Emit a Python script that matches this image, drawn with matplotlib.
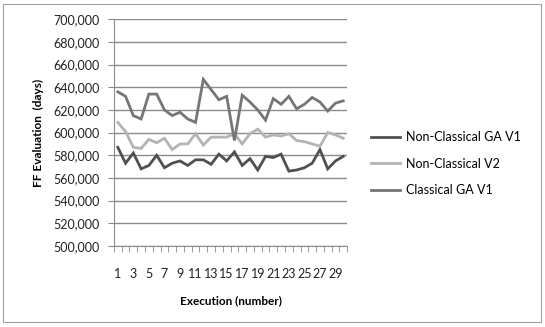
import matplotlib
matplotlib.use("Agg")
import matplotlib.pyplot as plt
from matplotlib.ticker import FuncFormatter, FixedLocator
from matplotlib.patches import Rectangle

# values (thousands of days)
executions = list(range(1, 31))
non_classical_v1 = [587, 573, 582, 568, 571, 580, 569, 573, 575, 571,
                    576, 576, 572, 581, 575, 583, 571, 577, 567, 579,
                    578, 581, 566, 567, 569, 573, 585, 568, 575, 579]
non_classical_v2 = [609, 601, 587, 586, 594, 591, 595, 585, 590, 590,
                    599, 589, 596, 596, 596, 599, 590, 599, 603, 596,
                    598, 597, 599, 593, 592, 590, 588, 600, 598, 595]
classical_v1 = [636, 632, 615, 612, 634, 634, 620, 615, 618, 612,
                609, 647, 638, 629, 632, 593, 633, 627, 620, 611,
                630, 625, 632, 621, 625, 631, 627, 619, 626, 628]

series = [("Non-Classical GA V1", non_classical_v1, "#505050"),
          ("Non-Classical V2", non_classical_v2, "#b4b4b4"),
          ("Classical GA V1", classical_v1, "#767676")]

plt.rcParams["font.family"] = ["Lato", "DejaVu Sans"]

fig = plt.figure(figsize=(5.45, 3.27), dpi=100)
ax = fig.add_axes([0.209, 0.248, 0.428, 0.693])

# outer chart border
fig.patches.append(Rectangle((0.006, 0.014), 0.987, 0.974, transform=fig.transFigure,
                             fill=False, edgecolor="#a0a0a0", lw=0.8))

for name, vals, col in series:
    ax.plot(executions, [v * 1000 for v in vals], color=col, lw=2.0, label=name,
            solid_joinstyle="miter")

ax.set_xlim(0.5, 30.5)
ax.set_ylim(500000, 700000)
ax.set_yticks(range(500000, 700001, 20000))
ax.yaxis.set_major_formatter(FuncFormatter(lambda v, p: f"{int(v):,}"))
ax.grid(axis="y", color="#8c8c8c", lw=1.0)
ax.set_axisbelow(True)

ax.xaxis.set_major_locator(FixedLocator(executions[::2]))
ax.xaxis.set_minor_locator(FixedLocator([i + 0.5 for i in range(0, 31)]))
ax.tick_params(axis="x", which="major", length=0, pad=16, labelsize=9, labelcolor="#222222")
ax.tick_params(axis="x", which="minor", length=4, color="#8c8c8c")
ax.tick_params(axis="y", length=4.3, color="#8c8c8c", labelsize=9, pad=6, labelcolor="#222222")

for s in ("top", "right"):
    ax.spines[s].set_visible(False)
for s in ("left", "bottom"):
    ax.spines[s].set_color("#8c8c8c")

ax.set_xlabel("Execution (number)", fontsize=8.5, fontweight="bold", labelpad=11)
ax.set_ylabel("FF Evaluation  (days)", fontsize=8.5, fontweight="bold", labelpad=7)

fig.legend(*ax.get_legend_handles_labels(), loc="upper left",
           bbox_to_anchor=(0.681, 0.598), bbox_transform=fig.transFigure,
           frameon=False, fontsize=9, handlelength=2.3, labelspacing=1.15,
           handletextpad=0.5, borderpad=0, borderaxespad=0)

fig.savefig("out.png", dpi=100)
